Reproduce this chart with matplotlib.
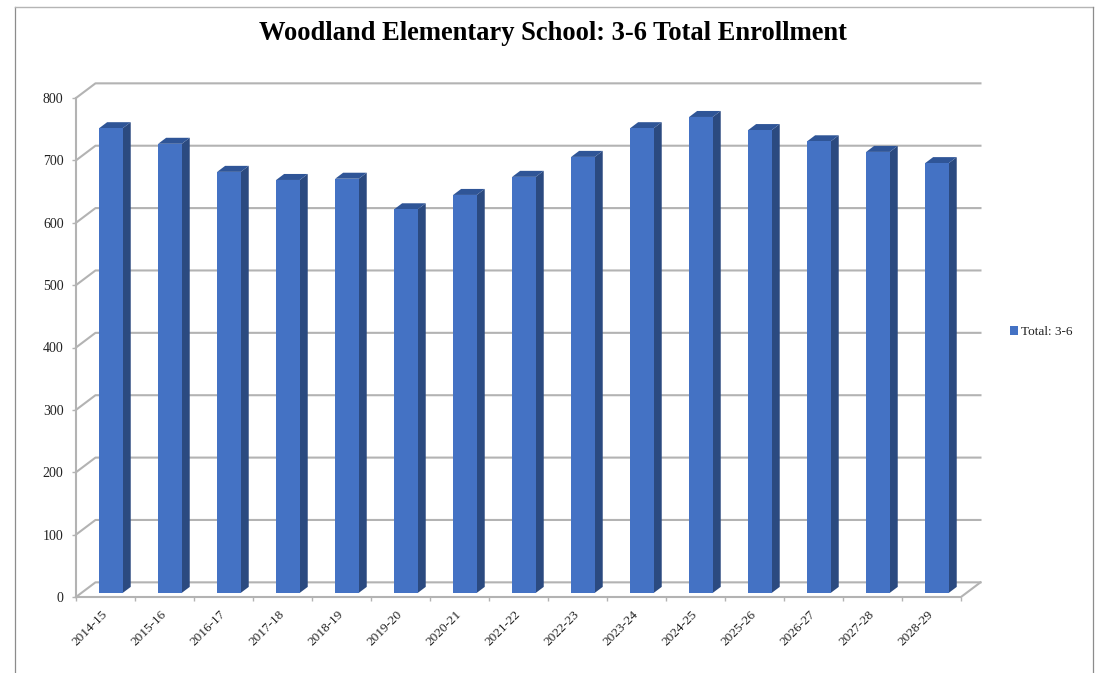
import matplotlib
matplotlib.use("Agg")
import matplotlib.pyplot as plt
from matplotlib.patches import Patch, Polygon
from matplotlib.lines import Line2D

# data
years = ["2014-15", "2015-16", "2016-17", "2017-18", "2018-19", "2019-20", "2020-21", "2021-22",
         "2022-23", "2023-24", "2024-25", "2025-26", "2026-27", "2027-28", "2028-29"]
totals = [745, 720, 675, 662, 664, 615, 638, 667, 699, 745, 763, 742, 724, 707, 689]
y_ticks = [0, 100, 200, 300, 400, 500, 600, 700, 800]

W, H = 1103, 673
grid_col = "#b3b3b3"
front_col = "#4472c4"
side_col = "#2b4a80"
top_col = "#2f5597"

# offset of the back wall from the front plane
depth_x = 0.33
depth_y = 23.5


def proj(x, y, d):
    # d=0 front plane, d=1 back wall
    return (x + d * depth_x, y + d * depth_y)


plt.rcParams["font.family"] = ["Liberation Serif", "DejaVu Serif"]
fig = plt.figure(figsize=(W / 100, H / 100), dpi=100)

# outer frame, open at the bottom of the picture
fig.add_artist(Line2D([14.5 / W, 14.5 / W], [0, 1 - 7 / H], color="#8c8c8c", lw=0.9))
fig.add_artist(Line2D([14.5 / W, 1092.5 / W], [1 - 7 / H, 1 - 7 / H], color="#b5b5b5", lw=1.0))
fig.add_artist(Line2D([1092.5 / W, 1092.5 / W], [1 - 7 / H, 0], color="#8c8c8c", lw=0.9))

ax = fig.add_axes([76 / W, 1 - 597 / H, 885 / W, 499 / H])
ax.set_xlim(0, len(years))
ax.set_ylim(0, 800)
for s in ax.spines.values():
    s.set_visible(False)
ax.patch.set_alpha(0)

# walls and floor
for v in y_ticks:
    p0 = proj(0, v, 0)
    p1 = proj(0, v, 1)
    p2 = proj(len(years), v, 1)
    ax.plot([p0[0], p1[0], p2[0]], [p0[1], p1[1], p2[1]], color=grid_col, lw=1.5, clip_on=False, zorder=1)
ax.plot([0, 0], [0, 800], color=grid_col, lw=1.5, clip_on=False, zorder=1)
end = proj(len(years), 0, 1)
ax.plot([0, len(years), end[0]], [0, 0, end[1]], color=grid_col, lw=1.5, clip_on=False, zorder=1)

# bars
d0 = 0.28
d1 = 0.69
for i, v in enumerate(totals):
    xl = i + 0.30
    xr = i + 0.70
    ax.add_patch(Polygon([proj(xr, 0, d0), proj(xr, 0, d1), proj(xr, v, d1), proj(xr, v, d0)],
                         closed=True, fc=side_col, ec="none", clip_on=False, zorder=3))
    ax.add_patch(Polygon([proj(xl, v, d0), proj(xr, v, d0), proj(xr, v, d1), proj(xl, v, d1)],
                         closed=True, fc=top_col, ec="none", clip_on=False, zorder=3))
    ax.add_patch(Polygon([proj(xl, 0, d0), proj(xr, 0, d0), proj(xr, v, d0), proj(xl, v, d0)],
                         closed=True, fc=front_col, ec="none", clip_on=False, zorder=4))

ax.set_yticks(y_ticks)
ax.tick_params(axis="y", length=3, width=1, color=grid_col, pad=6, labelsize=10, labelcolor="#222222")
ax.set_xticks([i + 0.43 for i in range(len(years))])
ax.set_xticklabels(years, rotation=45, ha="right", rotation_mode="anchor", fontsize=9.5, color="#222222")
ax.set_xticks(range(len(years) + 1), minor=True)
ax.tick_params(axis="x", which="major", length=0, pad=8)
ax.tick_params(axis="x", which="minor", length=3, width=1, color=grid_col)

fig.text(552.5 / W, 1 - 34 / H, "Woodland Elementary School: 3-6 Total Enrollment",
         ha="center", va="center", fontsize=19.1, fontweight="bold", color="black")

fig.legend(handles=[Patch(fc=front_col, ec="none", label="Total: 3-6")], loc="center left",
           bbox_to_anchor=(1010 / W, 1 - 332 / H), frameon=False, fontsize=9.5,
           handlelength=0.6, handleheight=0.6, handletextpad=0.25, borderpad=0, borderaxespad=0,
           labelcolor="#222222")

fig.savefig("out.png", dpi=100)
